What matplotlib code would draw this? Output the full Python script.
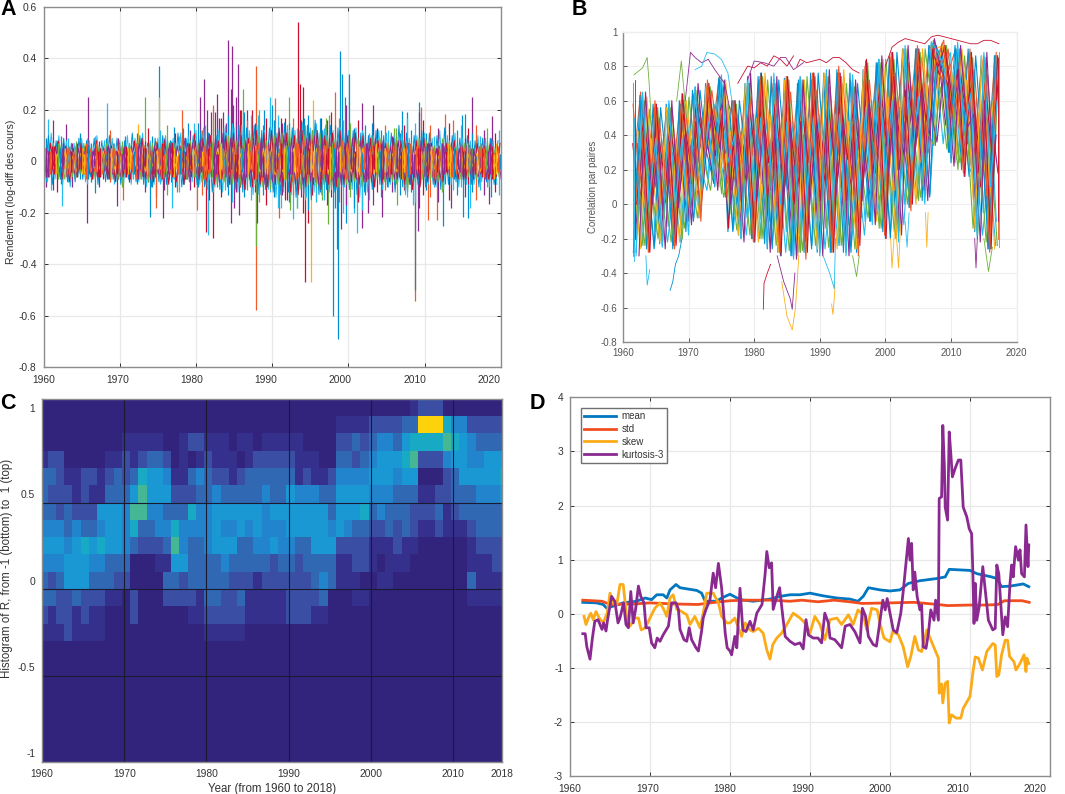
import numpy as np
import matplotlib
matplotlib.use("Agg")
import matplotlib.pyplot as plt
from matplotlib.colors import ListedColormap
from matplotlib.transforms import ScaledTranslation

plt.rcParams['font.family'] = ['Liberation Sans', 'DejaVu Sans']

W, H = 1065, 794
SER = ['#0090d0', '#f15a29', '#fbb01a', '#8e2a8f', '#6fb03a', '#25bdf0', '#c8102e']
AX = '#8c8c8c'; GRID = '#e8e8e8'; TXT = '#333333'

# ---------- A: returns, hundredths ----------
a_cyan = [9,-8,11,-7,10,-9,8,-10,7,-6, 9,-8,8,-7,10,-6,8,-7,9,-8, 8,-9,10,-9,9,-8,11,-10,8,-9, 9,-8,10,-7,9,-10,11,-9,10,-8,
 12,-9,13,-11,10,-10,12,-12,11,-9, 13,-12,14,-11,12,-13,14,-10,12,-11, 13,-14,11,-12,14,-13,12,-11,15,-14, 13,-12,11,-13,14,-12,12,-11,13,-10,
 12,-11,13,-14,11,-12,10,-10,12,-11, 11,-9,10,-8,12,-13,9,-8,10,-9, 11,-9,9,-10,12,-11,10,-9,11,-10, 9,-9,8,-9,10,-8,9,-10,8,-9]
a_blue = [-7,10,-9,8,-6,9,-8,7,-8,9, -7,8,-6,9,-9,8,-8,10,-7,9, -9,8,-7,11,-8,10,-9,7,-10,9, -8,10,-9,8,-7,11,-10,9,-8,10,
 -9,12,-10,11,-12,10,-11,13,-10,12, -11,14,-12,13,-10,14,-13,12,-11,13, -12,11,-13,15,-12,13,-14,12,-13,14, -15,16,-13,12,-11,14,-12,13,-10,12,
 -11,12,-13,11,-12,10,-11,12,-9,10, -10,11,-12,14,-10,11,-9,10,-9,12, -10,11,-9,10,-11,13,-9,10,-8,9, -9,10,-9,8,-10,9,-8,9,-9,8]
a_green = [5,-6,7,-5,6,-7,5,-6,6,-5, 7,-6,5,-7,6,-5,7,-6,5,-7, 6,-6,7,-5,8,-7,6,-8,7,-6, 5,-7,8,-6,7,-5,6,-7,8,-6,
 7,-8,9,-7,8,-9,7,-8,10,-9, 8,-10,9,-8,11,-9,10,-10,8,-11, 10,-9,11,-8,12,-10,9,-11,10,-9, 12,-10,11,-9,10,-11,9,-10,8,-9,
 10,-8,9,-10,8,-9,10,-7,9,-8, 7,-8,9,-7,8,-12,7,-8,9,-7, 8,-7,6,-8,7,-6,8,-7,6,-7, 7,-6,5,-7,6,-5,7,-6,5,-6]
a_red = [-6,7,-5,8,-7,6,-8,5,-6,7, -5,6,-7,8,-6,5,-7,6,-8,7, -6,5,-7,8,-6,9,-7,6,-8,7, -6,8,-9,7,-8,6,-9,7,-6,8,
 -7,9,-8,10,-9,8,-7,10,-9,11, -8,10,-11,9,-10,12,-9,11,-10,12, -9,13,-10,11,-12,10,-13,12,-10,11, -9,12,-11,10,-9,11,-10,12,-9,10,
 -8,11,-9,10,-8,9,-10,8,-9,7, -8,9,-7,8,-9,7,-11,8,-10,9, -8,7,-9,6,-8,7,-6,8,-7,6, -7,6,-6,7,-5,6,-7,5,-6,7]
a_purple = [4,-5,6,-4,5,-6,4,-5,5,-4, 6,-5,4,-6,5,-4,6,-5,4,-6, 5,-5,6,-4,7,-6,5,-7,6,-5, 4,-6,7,-5,6,-4,9,-6,7,-5,
 8,-7,10,-6,9,-8,11,-6,9,-8, 7,-9,8,-7,9,-8,9,-9,7,-8, 9,-8,10,-7,9,-9,8,-9,9,-8, 10,-9,9,-8,9,-10,8,-9,7,-8,
 9,-7,8,-8,7,-8,9,-6,8,-7, 6,-7,8,-6,7,-9,6,-7,8,-6, 7,-6,5,-7,6,-5,7,-6,5,-6, 6,-5,4,-6,5,-7,6,-5,6,-7]
a_orange = [-4,3,-5,4,-3,5,-4,3,-4,4, -3,5,-4,3,-5,4,-3,5,-4,3, -5,4,-3,5,-4,6,-5,4,-3,5, -4,3,-5,4,-5,3,-4,6,-5,4,
 -3,6,-5,7,-6,4,-5,7,-6,5, -7,6,-5,8,-6,7,-8,6,-5,7, -6,8,-7,6,-8,7,-5,8,-6,7, -8,6,-7,8,-6,7,-5,8,-7,6,
 -5,7,-6,5,-7,6,-5,7,-6,5, -4,6,-5,4,-6,5,-4,6,-5,4, -3,5,-6,4,-5,3,-5,4,-3,5, -4,3,-4,5,-3,4,-5,3,-4,4]
a_yellow = [2,-3,3,-2,4,-3,2,-4,3,-2, 3,-4,2,-3,4,-2,3,-3,4,-2, 3,-2,4,-3,2,-4,3,-2,4,-3, 2,-4,3,-2,4,-3,2,-3,4,-2,
 3,-4,2,-3,5,-3,4,-2,5,-4, 3,-5,4,-3,6,-4,5,-3,4,-5, 3,-4,6,-3,5,-4,3,-6,4,-3, 5,-4,6,-5,3,-4,5,-3,6,-4,
 3,-4,5,-3,4,-5,3,-4,5,-2, 3,-4,2,-3,5,-2,4,-3,3,-2, 4,-3,2,-4,3,-2,4,-3,2,-3, 3,-2,3,-4,2,-3,4,-2,3,-3]

a_fr_up = [9,7,16,8,10,6,9,7,8,11,6,9,7,10,8,6,9,12,7,9,8,10,6,8, 11,9,8,13,10,8,12,9,14,8,11,10,13,9,12,11, 15,12,14,11,16,13,17,14,18,15,16,20,
 19,16,18,15,20,14,17,19,16,18,15,17, 15,17,13,16,14,18,12,15,17,13,16,19,14,17,16,22, 15,13,16,12,14,11,15,13,12,14, 12,10,13,11,14,17,12,15,19,16,
 11,14,10,13,9,12,15,10,12,14,9,13,11,14,10,12,13,9,11,12]
a_fr_dn = [-8,-6,-11,-7,-9,-5,-8,-10,-6,-7,-5,-9,-8,-6,-10,-7,-5,-8,-9,-7,-10,-6,-8,-7, -9,-7,-12,-8,-10,-14,-9,-11,-13,-8,-10,-12,-9,-7,-11,-10, -10,-13,-9,-15,-12,-10,-14,-11,-13,-16,-12,-10,
 -14,-11,-15,-12,-16,-13,-17,-12,-14,-18,-13,-15, -16,-13,-18,-14,-15,-19,-13,-16,-12,-15,-17,-14,-18,-16,-20,-17, -14,-18,-16,-19,-13,-15,-17,-12,-14,-11, -10,-12,-9,-13,-11,-14,-12,-16,-18,-13,
 -11,-14,-10,-16,-12,-9,-15,-11,-13,-10,-14,-9,-12,-15,-11,-13,-10,-14,-12,-13]
a_mid = [4,6,3,5,7,2,5,4,6,3,5,7,4,2,6,5,3,7,4,5, 6,3,5,4,7,3,6,5,2,6,4,7,5,3,6,4,5,7,3,6, 5,4,7,3,6,5,7,4,6,3,7,5,4,6,3,7,5,6,4,7,
 5,3,6,7,4,5,7,3,6,5,4,7,6,3,5,7,4,6,5,3, 7,4,6,5,3,7,5,4,6,7,3,5,4,6,7,3,5,6,4,7, 5,3,6,4,7,5,3,6,5,4,7,3,6,5,4,6,3,5,7,4]
a_mid_ser = [1,3,6,2,0,3,1,6,4,3,2,1]
a_fr_ser = [0,5,3,6,0,1,5,3,4,0,6,5]

a_up_year = [0.6,3.0,5.8,8.3,13.35,15.1,15.1,18.2,21.0,20.5,22.0,22.7,22.3,24.2,24.75,24.6,25.5,25.2,26.2,27.85,29.7,30.4,32.2,33.4,33.65,34.0,35.35,38.3,38.9,39.2,39.5,40.05,41.85,43.3,47.05,47.7,49.3,49.6,52.7,53.7,54.95,55.3,56.2,58.85,26.65,27.3,28.2,28.9,30,31.1,37.1,37.5,36.4,34.2,12.45,17.1,18.9,19.8,45.95,43.05,21.5,22.5,23,23.5,23.9,24.9,25.9]
a_up_val = [16.5,14.5,25,22.5,25,37,25,20,32,25,19,26,22,47,45,28,38,25,28,37,25,24.5,25,54,30,29,24,27,43,34,25,34,22.5,22,19.5,19,23,21,18.5,16,18,18.5,25,17.5,20,20,18,20,22,17,17,18,17,17,14.5,13.5,15,15,13,15,20,19,17,19,15,22,20]
a_up_ser = [5,3,3,5,4,0,2,1,3,3,3,3,1,3,3,3,3,3,4,1,5,1,4,6,6,6,2,1,0,0,0,0,3,3,0,0,0,1,1,1,0,0,3,3,3,6,5,0,0,6,4,4,3,0,2,0,0,5,4,0,3,3,3,3,3,3,3]
a_dn_year = [0.25,0.95,1.8,2.4,5.7,6.7,9.65,10.4,14,14.7,15.7,16.8,17.5,20.2,21.3,21.55,22.2,24.55,25.05,25.6,27.85,27.85,28.05,30.9,31.1,31.9,32.4,32.75,33.2,34,34.3,34.7,35.1,35.8,36.6,37.3,37.95,38.55,38.7,39.05,39.65,40.75,41.15,41.75,42.6,44.4,46.45,48.8,48.8,49.15,48.45,50.4,51.65,52.4,53.45,55,55.65,56,58.45]
a_dn_val = [-10,-11,-12,-17.5,-24,-12.5,-17.5,-15,-21.5,-18,-22,-18,-12,-19,-27.5,-28.5,-30,-24,-18,-21,-58,-33,-24,-22,-18,-15,-19,-22.5,-18,-20,-47,-24,-47,-16,-15,-24.5,-60,-34,-69,-26.5,-24,-20,-28,-26,-20,-21.5,-17,-54.5,-50,-27,-17,-23,-23,-25,-18,-21.5,-22,-18,-16.5]
a_dn_ser = [3,5,6,5,3,0,3,1,0,1,3,5,1,1,6,5,6,3,3,3,1,4,3,1,5,6,4,5,4,6,6,6,2,2,4,4,0,0,0,3,0,5,5,3,3,3,4,1,0,3,5,1,1,0,3,0,0,5,3]

# ---------- B: pairwise correlation, hundredths, yearly from mid 1961 ----------
b_1 = [68,-28,62,-27,58,-24,58,-22,64,-10,68,6,70,10,70,-16,60,-20,74,-22,76,-26,72,-30,74,-30,74,-26,76,-28,76,-26,76,-28,70,-22,83,-10,84,-20,88,-16,90,0,90,4,94,80,92,24,90,16,88,-20,86,-26,86]
b_2 = [-28,63,-26,58,-23,58,-26,60,-16,66,-8,70,14,73,4,60,-18,70,-20,74,-23,74,-28,73,-30,70,-28,76,-28,76,-28,78,-28,76,-28,78,-10,82,-16,86,-20,90,-2,90,2,92,34,93,30,92,20,90,-16,86,-26,86,-20]
b_3 = [45,-15,45,-16,38,-13,38,-12,46,-2,50,15,58,18,55,-6,42,-8,52,-9,50,-12,47,-16,48,-17,50,-12,52,-14,52,-13,50,-14,48,-10,60,4,62,-6,62,0,68,12,70,16,90,78,88,32,75,26,62,-5,60,-10,60]
b_4 = [-10,52,-10,47,-8,47,-9,48,-2,53,4,58,24,62,16,50,-3,57,-4,62,-5,62,-7,60,-10,57,-8,62,-8,62,-8,64,-8,60,-9,62,8,70,6,72,-2,76,14,78,16,78,66,86,50,82,40,78,4,72,-5,72,-5]
b_5 = [58,12,55,9,50,10,52,10,54,15,58,30,66,35,62,15,52,16,62,20,68,18,65,15,65,13,68,18,66,17,68,20,70,18,62,20,72,28,75,28,76,35,82,42,85,45,92,72,90,50,85,45,78,26,75,24,75]
b_6 = [-20,28,-18,24,-15,24,-17,25,-10,32,-4,36,12,48,12,34,-10,34,-12,40,-14,36,-18,30,-22,30,-22,34,-20,36,-20,36,-18,34,-20,30,-2,44,-8,44,-10,48,4,52,8,55,36,75,32,70,28,60,-8,46,-16,40,-12]
b_7 = [25,65,22,56,20,56,18,58,25,64,32,68,44,74,40,60,25,68,28,70,30,70,25,68,24,70,24,72,28,74,28,76,28,72,26,76,40,80,38,85,42,90,50,90,54,92,82,92,78,90,62,88,40,84,34,86,38]
b_8 = [10,-25,12,-25,12,-22,10,-22,20,-8,22,8,40,12,32,-15,16,-18,25,-20,22,-22,18,-28,18,-28,18,-24,20,-26,20,-24,20,-24,18,-18,30,-6,26,-16,32,-12,44,3,46,6,75,35,75,26,50,18,28,-18,20,-24,25]
b_9 = [35,0,32,0,30,1,30,2,34,12,40,25,50,30,46,8,36,10,44,10,42,8,38,6,38,5,40,8,42,8,42,10,44,8,38,8,54,18,54,16,58,20,62,30,66,30,84,78,76,40,68,35,52,10,50,6,50]
b_10 = [-4,42,-2,38,0,38,-1,40,4,44,8,50,26,55,20,42,4,48,6,50,3,52,2,50,0,48,2,50,4,50,2,52,2,48,2,50,14,60,12,62,8,66,20,68,24,70,40,88,44,78,38,72,12,60,5,60,8]
b_11 = [-25,15,-24,12,-20,12,-22,15,-14,20,-8,25,8,38,4,22,-15,22,-18,28,-20,24,-24,18,-27,18,-27,22,-24,24,-25,24,-24,22,-26,20,-8,32,-14,32,-16,36,0,40,4,42,34,68,32,58,24,50,-14,32,-22,28,-18]
b_12 = [55,20,50,17,48,18,46,17,52,26,58,38,62,42,60,22,50,24,58,28,60,24,58,22,56,22,60,24,60,26,60,26,62,26,58,26,70,36,70,34,74,36,78,46,80,48,90,75,88,60,82,54,70,32,70,30,72]
b_13 = [5,35,6,30,8,30,5,32,12,36,18,44,30,48,26,35,12,38,14,42,12,40,10,38,8,38,10,42,12,42,12,44,10,40,12,44,22,50,22,52,28,56,30,60,34,62,50,84,46,70,44,62,20,48,14,50,18]
b_14 = [66,-10,60,-10,56,-8,56,-10,60,-2,66,14,68,22,68,-6,58,-4,70,-6,74,-10,70,-14,72,-14,72,-10,74,-12,74,-8,74,-12,68,-8,82,8,82,0,84,14,90,18,88,22,95,55,92,36,90,30,85,0,85,-4,85]
b_15 = [62,18,-24,55,16,-22,56,16,-20,62,30,8,68,40,6,58,18,-18,70,25,-20,72,24,-28,72,22,-28,74,25,-26,74,26,-24,70,22,-22,80,35,-14,84,38,-16,88,46,2,90,60,84,90,60,20,86,38,-18,84,30,-24]
b_16 = [-24,60,22,-26,56,18,-24,58,24,-10,66,30,14,72,40,-16,60,28,-20,72,28,-26,72,22,-30,72,22,-26,76,26,-28,76,26,-28,70,28,-10,82,36,-20,88,38,-2,90,46,4,92,80,30,90,58,16,86,32,-26,86,30]
b_17 = [20,-26,62,15,-22,56,16,-22,60,26,-8,68,42,10,72,20,-18,70,26,-22,76,24,-28,72,22,-30,72,24,-26,76,24,-26,78,22,-26,78,36,-10,84,34,-20,90,44,0,90,50,90,92,62,24,90,50,-15,86,30,-26,86]
b_18 = [66,0,40,-28,58,-4,36,-24,64,12,48,6,70,28,52,-14,60,0,50,-22,76,4,46,-30,74,0,48,-28,76,2,50,-28,76,2,46,-24,84,18,56,-20,88,20,66,0,90,30,88,80,92,50,78,16,88,18,60,-26,86]
b_19 = [0,40,-28,60,0,36,-26,60,8,50,-10,72,30,54,4,60,2,50,-22,74,6,46,-28,74,2,46,-32,76,4,50,-28,80,2,48,-30,80,18,56,-18,88,20,62,-4,92,28,70,85,95,46,72,18,90,16,62,-28,88,30]
b_20 = [40,-30,65,0,36,-26,60,-2,40,-12,70,24,52,8,72,0,40,-22,76,4,46,-28,74,0,46,-32,72,0,46,-30,78,4,46,-30,72,2,58,-12,86,18,62,-18,92,28,66,2,96,78,70,22,92,44,52,-22,88,12,60]
b_21 = [-30,65,2,38,-25,60,0,38,-18,68,8,48,12,75,24,40,-20,72,2,50,-25,76,0,48,-32,72,2,50,-30,78,2,52,-30,75,2,56,-12,84,18,60,-22,92,24,62,0,94,88,78,28,94,42,64,-18,88,10,60,-22]
b_lines = [b_1,b_8,b_14,b_4,b_9,b_13,b_7,b_15,b_2,b_3,b_10,b_6,b_12,b_5,b_16,b_11,b_17,b_18,b_19,b_20,b_21]
b_line_ser = [0,5,4,2,6,3,1,4,0,5,2,3,6,1,0,4,2,6,1,3,5]
b_off = [-.5,.3,-.2,.45,0,-.35,.2,-.45,.1,.4,-.1,.35,-.3,.05,.25,-.15,.15,-.4,.38,-.05,.5]

b_out_years = [
 [1961.7,1962,1963,1963.7,1964,1964.3],[1968.2,1968.9,1969.2,1969.7],
 [1969.5,1970.3,1971,1972,1973,1974,1975.5,1976.3],[1971,1972,1972.8,1974,1975,1976,1976.6],
 [1984.2,1985,1985.8,1986.3,1986.8],[1983.5,1984.5,1985.5,1985.8,1986.2],[1981.4,1981.5,1982,1982.5],
 [1967.2,1967.6,1968,1968.5,1969],[1963.5,1963.7,1964.1],[1991.8,1992,1992.3,1992.2],[1990.5,1991.5,1992.2,1992.4],
 [1995,1995.6,1996],[2015,2015.7,2016.3],[2013.6,2013.8,2014],[2000.8,2001,2001.4],[2001.7,2002,2002.3],[2003,2003.3,2003.6],[2006.1,2006.3,2006.5],
 [2000,2001,2002,2003,2004,2005,2006,2007,2008,2009,2010,2011,2012,2013,2014,2015,2016,2017.3],
 [1977.5,1979,1980,1981,1982,1983,1984,1985,1986],[1986.5,1987,1988,1989,1990,1991,1992,1993,1994,1995,1996],[1979,1980,1981.5,1983,1984,1984.8,1986,1987.5],
 [1961.6,1961.6],[1961.7,1961.7],[1961.8,1961.8],[2017.3,2017.3],[2017.2,2017.2],[2017.1,2017.1]]
b_out_vals = [
 [75,76,79,85,70,50],[60,83,70,50],
 [60,88,85,82,84,78,70,55],[78,80,88,87,84,76,60],
 [-45,-65,-73,-60,-30],[-30,-45,-55,-61,-40],[-61,-46,-40,-35],
 [-50,-45,-35,-30,-20],[-30,-47,-38],[-58,-64,-50,-45],[-30,-40,-49,-20],
 [-30,-42,-30],[-20,-39,-25],[-20,-37,-20],[-20,-37,-15],[-20,-37,-12],[-10,-25,-5],[-5,-25,-5],
 [80,91,94,96,95,94,93,97,98,97,96,95,94,93,93,95,95,93],
 [70,80,79,82,80,86,84,80,86],[80,84,82,83,84,82,85,85,82,78,76],[72,83,82,80,85,85,78,82],
 [-30,70],[-33,50],[-20,72],[-25,88],[-20,80],[-10,85]]
b_out_ser = [4,4,3,5,2,3,6,0,5,2,5,4,4,3,2,2,5,2,6,6,6,3,1,5,6,4,1,6]

# ---------- C: histogram levels per row (top bin = 1.0) and year column ----------
c_r10 = [0,0,0,0,0,0,0,0,0,0,0,0,0,0,0,0,0,0,0,0,0,0,0,0,0,0,0,0,0,0,0,0,0,0,0,0,0,0,0,0,0,0,0,0,0,1,2,2,2,0,0,0,0,0,0,0,0]
c_r09 = [0,0,0,0,0,0,0,0,0,0,0,0,0,0,0,0,0,0,0,0,0,0,0,0,0,0,0,0,0,0,0,0,0,0,0,0,1,1,1,1,2,2,2,2,3,3,9,9,9,6,4,4,2,2,2,2,2]
c_r08 = [0,0,0,0,0,0,0,0,0,0,1,1,1,1,1,0,0,1,2,2,1,1,1,0,1,1,0,1,1,1,1,1,0,0,0,0,2,2,3,2,3,4,4,3,5,6,6,6,6,7,6,5,4,3,3,3,3]
c_r07 = [1,2,2,0,0,0,0,0,1,1,2,1,2,3,3,2,0,1,0,1,2,1,1,1,0,1,2,2,2,2,2,1,1,1,0,0,3,3,2,3,4,5,5,5,6,7,2,2,2,4,5,5,4,4,5,5,5]
c_r06 = [3,3,2,1,1,2,2,1,2,3,2,3,6,5,5,4,1,1,3,4,3,2,2,1,2,3,3,3,3,3,3,1,2,1,1,2,4,4,4,4,5,5,5,4,5,5,0,0,0,2,3,5,5,5,5,5,6]
c_r05 = [3,2,2,2,1,2,1,1,3,3,3,5,7,5,5,5,2,2,2,3,3,4,3,3,3,3,3,4,3,3,5,4,4,4,3,3,5,5,5,5,4,4,4,3,3,3,1,1,2,2,3,3,3,4,4,4,5]
c_r04 = [3,3,2,3,2,2,2,5,5,5,4,7,7,4,4,3,3,3,6,4,4,5,5,5,5,5,5,4,5,5,5,5,5,5,5,3,5,5,5,6,3,4,3,3,3,2,2,2,3,1,2,3,3,3,3,3,3]
c_r03 = [4,4,4,3,4,3,3,4,5,5,4,6,3,3,4,4,6,4,4,4,4,5,4,4,5,4,5,4,4,4,5,5,5,5,5,4,5,4,3,3,2,2,3,2,3,2,1,1,2,1,1,1,2,3,3,3,3]
c_r02 = [5,5,5,4,5,6,5,6,5,5,4,3,2,2,2,3,7,4,3,3,4,5,5,5,3,3,4,4,5,4,4,3,3,5,5,5,2,2,2,2,1,1,1,2,1,1,0,0,0,0,0,0,1,2,2,2,2]
c_r01 = [4,4,4,5,5,5,4,4,3,3,3,0,0,0,1,1,5,5,3,3,3,3,4,3,3,3,3,3,2,3,3,2,3,3,3,3,1,1,2,2,1,0,1,1,1,0,0,0,0,0,0,0,1,1,1,2,2]
c_r00 = [3,2,3,5,5,5,3,3,3,2,2,0,0,0,0,3,3,2,3,3,3,3,3,2,2,2,1,2,2,2,2,2,2,3,4,3,1,1,1,0,0,1,1,0,0,0,0,0,0,0,0,0,3,1,1,1,1]
c_rm1 = [3,3,2,2,3,2,2,2,1,1,0,2,0,0,0,2,2,2,2,1,3,3,2,2,3,1,1,1,1,1,2,2,2,2,3,0,0,0,1,1,0,0,0,0,0,0,0,0,0,0,0,0,1,1,1,1,1]
c_rm2 = [2,1,2,2,1,2,1,1,0,0,0,2,0,0,0,0,0,0,1,1,2,2,2,2,2,1,1,1,1,1,2,2,2,1,1,0,0,0,0,0,0,0,0,0,0,0,0,0,0,0,0,0,0,0,0,0,0]
c_rm3 = [1,1,1,2,1,1,1,1,0,0,0,0,0,0,0,0,0,0,0,0,1,1,1,1,1,0,0,0,0,0,0,0,0,0,0,0,0,0,0,0,0,0,0,0,0,0,0,0,0,0,0,0,0,0,0,0,0]
c_low = [0,0,0,0,0,0,0,0,0,0,0,0,0,0,0,0,0,0,0,0,0,0,0,0,0,0,0,0,0,0,0,0,0,0,0,0,0,0,0,0,0,0,0,0,0,0,0,0,0,0,0,0,0,0,0,0,0]
c_rows = [c_r10,c_r09,c_r08,c_r07,c_r06,c_r05,c_r04,c_r03,c_r02,c_r01,c_r00,c_rm1,c_rm2,c_rm3,
          c_low,c_low,c_low,c_low,c_low,c_low,c_low]
c_cols = ['#32247c','#35308b','#3a4fa3','#3068b4','#2184cc','#1a98d4','#18a9c4','#45b795','#b5bd50','#fdd20a']
c_tick_years = [1960,1970,1980,1990,2000,2010,2015.9]
c_tick_labels = ['1960','1970','1980','1990','2000','2010','2018']

# ---------- D: moments ----------
d_kurt_y = [1961.6,1961.9,1962.1,1962.5,1962.8,1963.1,1963.5,1964.0,1964.2,1964.5,1964.7,1965.2,1965.6,1966.0,1966.25,1966.7,1967,1967.3,1967.6,1967.9,1968.2,1968.55,1968.85,1969.25,1969.5,1969.9,1970.2,1970.6,1970.9,1971.25,1971.65,1972.3,1972.7,1973.25,1973.55,1973.75,1974.25,1974.6,1974.9,1975.2,1975.75,1976.05,1976.45,1976.65,1977,1977.5,1977.9,1978.2,1978.55,1978.95,1979.4,1979.65,1980,1980.2,1980.6,1980.85,1981.25,1981.6,1982,1982.5,1982.9,1983.35,1984,1984.4,1984.6,1984.9,1985.2,1985.4,1985.85,1986.2,1986.6,1986.9,1987.5,1988.1,1988.75,1989.15,1989.5,1989.8,1990.4,1991,1991.45,1991.85,1992.3,1992.5,1993.1,1993.95,1994.4,1995,1995.6,1996.25,1996.55,1996.95,1997.3,1997.9,1998.3,1998.65,1999.1,1999.4,1999.65,2000,2000.4,2000.85,2001.35,2001.65,2002,2002.3,2002.5,2002.7,2002.9,2003.1,2003.4,2003.75,2003.95,2004.15,2004.5,2004.8,2005.1,2005.5,2005.7,2006.05,2006.15,2006.45,2006.6,2006.8,2006.9,2007.2,2007.4,2007.6,2007.8,2008.2,2008.55,2008.85,2009.15,2009.6,2009.9,2010.2,2010.35,2010.5,2010.65,2010.85,2011.15,2011.6,2011.9,2012.3,2012.85,2013.15,2013.35,2013.6,2013.9,2014.1,2014.4,2014.7,2015,2015.2,2015.4,2015.7,2016.05,2016.25,2016.45,2016.8,2017,2017.25,2017.35]
d_kurt_v = [-.37,-.37,-.61,-.84,-.45,-.14,-.11,-.29,-.17,-.32,-.11,.32,.23,-.17,-.08,.2,-.2,-.26,.41,-.17,.08,.51,.32,.2,-.26,-.26,-.54,-.63,-.45,-.51,-.39,-.23,.2,.2,.08,-.29,-.48,-.51,-.26,-.48,-.63,-.69,-.32,-.08,.08,.26,.75,.48,.93,.48,-.36,-.63,-.69,-.76,-.42,-.63,.47,-.3,-.33,-.14,-.3,.01,.17,.75,1.15,.85,.94,.08,.32,.48,-.05,-.42,-.51,-.57,-.54,-.65,-.11,-.39,-.45,-.45,-.54,.01,-.17,-.45,-.48,-.63,-.23,-.2,-.33,-.54,.1,-.05,-.42,-.57,-.6,-.24,.25,.07,.28,.01,-.3,-.35,.01,.41,.93,1.39,.99,1.3,.44,.77,.31,.07,.16,-.61,-.64,-.36,.07,-.12,.25,-.12,2.13,2.16,3.48,2.71,1.97,1.73,3.36,2.96,2.53,2.71,2.84,2.84,1.97,1.79,1.57,1.48,.81,-.18,.56,-.12,.13,.87,.44,-.12,-.3,-.27,.9,.74,.07,-.39,-.06,-.24,.56,.9,.68,1.24,.99,1.18,.74,.68,1.64,.87,1.27]
d_skew_y = [1961.75,1962,1962.3,1962.6,1962.9,1963.25,1963.65,1964.15,1964.65,1965,1965.35,1965.85,1966.25,1966.65,1966.9,1967.15,1967.5,1968.1,1968.55,1968.9,1969.4,1970,1970.6,1971.25,1971.65,1972.1,1972.5,1972.9,1973.35,1973.95,1974.6,1975,1975.6,1976.25,1976.65,1977.1,1977.9,1978.55,1978.95,1979.6,1980,1980.6,1981.45,1981.9,1982.5,1982.9,1983.55,1984.15,1984.6,1985,1985.35,1985.85,1986.45,1987.1,1987.9,1988.75,1989.35,1990,1990.6,1991.25,1991.85,1992.5,1993.35,1993.95,1994.8,1995.4,1996,1996.65,1997.1,1997.7,1998.4,1998.75,1999.25,2000,2000.35,2001.05,2001.65,2002.2,2002.6,2003.1,2003.55,2003.95,2004.6,2005.2,2006.05,2006.15,2006.45,2006.6,2006.9,2007.2,2007.4,2007.7,2008.25,2008.85,2009.15,2010,2010.35,2010.65,2011.05,2011.55,2012.1,2012.85,2013.15,2013.35,2013.6,2013.95,2014.4,2014.7,2014.95,2015.5,2015.75,2016.25,2016.75,2017,2017.1,2017.35]
d_skew_v = [-.05,-.2,-.08,.01,-.11,.04,-.08,-.17,.01,.38,.2,.17,.54,.54,.2,-.17,-.23,-.08,-.08,-.3,-.26,-.08,.1,.2,.1,-.05,.29,.35,.08,.04,-.02,-.2,-.05,-.26,.01,.38,.38,.2,-.05,-.17,-.17,-.08,-.42,-.17,-.3,-.33,-.27,-.36,-.67,-.84,-.57,-.45,-.36,-.2,.01,-.08,-.17,-.36,-.05,-.2,-.48,-.11,-.08,-.2,-.02,-.2,.07,-.02,-.3,.1,.07,-.18,-.45,-.52,-.33,-.39,-.61,-.98,-.79,-.42,-.67,-.7,-.3,-.52,-.82,-1.47,-1.3,-1.65,-1.29,-1.25,-2.02,-1.87,-1.93,-1.93,-1.75,-1.53,-1.1,-.8,-.82,-1.04,-.7,-.55,-.58,-1.16,-1.13,-.76,-.49,-.49,-.79,-.89,-1.04,-.92,-.76,-1.07,-.82,-.92]
d_mean_y = [1961.6,1963.3,1964.15,1964.6,1965.4,1966.65,1968.3,1969.4,1970.2,1970.85,1971.65,1972.1,1972.5,1973.25,1973.75,1975.85,1976.45,1976.9,1978.3,1978.95,1980,1981.25,1982.9,1985,1986.25,1987.5,1988.75,1990,1991.65,1993.35,1995,1996,1996.65,1997.3,1998.75,2000,2001.25,2002.3,2003.75,2005.85,2006.9,2007.4,2010,2010.85,2012.7,2013.35,2013.95,2015,2015.85,2016.65,2017.35]
d_mean_v = [.21,.2,.17,.1,.14,.2,.23,.29,.26,.35,.35,.29,.44,.54,.48,.43,.38,.23,.23,.29,.36,.26,.23,.27,.32,.35,.35,.38,.33,.29,.27,.23,.32,.48,.44,.42,.44,.56,.61,.65,.68,.82,.8,.74,.68,.65,.5,.51,.53,.55,.5]
d_std_y = [1961.6,1964,1965,1968,1970,1973,1976,1977.5,1980,1982,1985,1987.5,1989,1991,1993,1995,1996.5,2000,2003,2006,2007.2,2010,2012,2013.5,2014.3,2016.5,2017.4]
d_std_v = [.25,.23,.17,.18,.2,.18,.17,.2,.24,.25,.25,.23,.25,.22,.25,.22,.19,.2,.21,.17,.15,.16,.16,.17,.24,.24,.21]
d_names = ['mean','std','skew','kurtosis-3']
d_cols = ['#0077c0','#f04e1f','#fbab18','#8a2a90']


def axes_px(l, t, r, b):
    return fig.add_axes([l / W, 1 - b / H, (r - l) / W, (b - t) / H])


def style(ax, fs):
    for s in ax.spines.values():
        s.set_color(AX)
        s.set_linewidth(1.0)
    ax.tick_params(colors=TXT, labelsize=fs, direction='in', length=3, width=0.7)
    ax.tick_params(axis='x', pad=6)
    ax.tick_params(axis='y', pad=5)
    ax.set_axisbelow(True)


def shift_xlabels(ax, per_tick_px):
    for i, lab in enumerate(ax.get_xticklabels()):
        off = ScaledTranslation(i * per_tick_px / 100, 0, fig.dpi_scale_trans)
        lab.set_transform(lab.get_transform() + off)


fig = plt.figure(figsize=(W / 100, H / 100), dpi=100)

# A
ax = axes_px(43.6, 7, 500.7, 367)
style(ax, 7.4)
ax.tick_params(top=True, right=True)
ax.grid(True, color=GRID, lw=0.9)
a_core = [(a_cyan, 5), (a_blue, 0), (a_green, 4), (a_red, 6), (a_purple, 3), (a_orange, 1), (a_yellow, 2)]
ax.vlines([1960 + y for y in a_up_year], 0, [v / 100 for v in a_up_val], colors=[SER[s] for s in a_up_ser], lw=0.9)
ax.vlines([1960 + y for y in a_dn_year], 0, [v / 100 for v in a_dn_val], colors=[SER[s] for s in a_dn_ser], lw=0.9)
fr_x = 1960.25 + 0.5 * np.arange(len(a_fr_up))
fr_c = [SER[a_fr_ser[k % len(a_fr_ser)]] for k in range(len(a_fr_up))]
ax.vlines(fr_x, np.array(a_fr_dn) / 100, np.array(a_fr_up) / 100, colors=fr_c, lw=0.9)
for i, (vals, s) in enumerate(a_core):
    x = 1960 + 0.14 * i + 0.5 * np.arange(len(vals))
    ax.plot(x, np.array(vals) / 100, color=SER[s], lw=0.7)
mid_c = [SER[a_mid_ser[k % len(a_mid_ser)]] for k in range(len(a_mid))]
mid_c2 = [SER[a_mid_ser[(k + 5) % len(a_mid_ser)]] for k in range(len(a_mid))]
mid_x = 1960.1 + 0.5 * np.arange(len(a_mid))
mid = np.array(a_mid) / 100
ax.vlines(mid_x, -mid, np.roll(mid, 7), colors=mid_c, lw=1.0)
ax.vlines(mid_x + 0.25, -np.roll(mid, 13), np.roll(mid, 29), colors=mid_c2, lw=1.0)
ax.set_xlim(1960, 2020); ax.set_ylim(-0.8, 0.6)
ax.set_xticks(range(1960, 2021, 10))
ax.set_yticks([-0.8, -0.6, -0.4, -0.2, 0, 0.2, 0.4, 0.6])
ax.set_yticklabels(['-0.8', '-0.6', '-0.4', '-0.2', '0', '0.2', '0.4', '0.6'])
shift_xlabels(ax, -2)
ax.set_ylabel('Rendement (log-diff des cours)', fontsize=7.6, color=TXT, labelpad=2, y=0.486)

# B
ax = axes_px(622.9, 31.7, 1016.7, 342)
style(ax, 7.0)
ax.tick_params(colors='#555555', pad=4)
ax.grid(True, color='#eeeeee', lw=0.8)
ax.spines['top'].set_color('#eeeeee'); ax.spines['right'].set_color('#eeeeee')
for vals, s, off in zip(b_lines, b_line_ser, b_off):
    x = 1961.5 + off + np.arange(len(vals))
    keep = (x >= 1961.5) & (x <= 2017.3)
    ax.plot(x[keep], (np.array(vals) / 100)[keep], color=SER[s], lw=0.8)
for xs, vs, s in zip(b_out_years, b_out_vals, b_out_ser):
    ax.plot(xs, np.array(vs) / 100, color=SER[s], lw=0.6)
ax.set_xlim(1960, 2020); ax.set_ylim(-0.8, 1)
ax.set_xticks(range(1960, 2021, 10))
ax.set_yticks([-0.8, -0.6, -0.4, -0.2, 0, 0.2, 0.4, 0.6, 0.8, 1])
ax.set_yticklabels(['-0.8', '-0.6', '-0.4', '-0.2', '0', '0.2', '0.4', '0.6', '0.8', '1'])
ax.set_ylabel('Correlation par paires', fontsize=6.9, color='#555555', labelpad=2)

# C
ax = axes_px(42, 399.3, 501.7, 761.7)
style(ax, 7.4)
ax.imshow(np.array(c_rows), cmap=ListedColormap(c_cols), vmin=-0.5, vmax=9.5, aspect='auto',
          interpolation='nearest', extent=(1959.7, 2016.7, -1.05, 1.05))
for y in [0.45, -0.05, -0.55]:
    ax.axhline(y, color='#1a1a30', lw=0.8)
for x in c_tick_years[1:6]:
    ax.axvline(x, color='#1a1a30', lw=0.8)
ax.set_xlim(1960, 2015.9); ax.set_ylim(-1.048, 1.048)
ax.set_xticks(c_tick_years); ax.set_xticklabels(c_tick_labels)
ax.set_yticks([-1, -0.5, 0, 0.5, 1]); ax.set_yticklabels(['-1', '-0.5', '0', '0.5', '1'])
ax.tick_params(length=0, pad=5)
ax.set_xlabel('Year (from 1960 to 2018)', fontsize=8.3, color=TXT, labelpad=3)
ax.set_ylabel('Histogram of R, from -1 (bottom) to  1 (top)', fontsize=8.3, color=TXT, labelpad=3, y=0.533)

# D
ax = axes_px(570, 397.3, 1050, 776)
style(ax, 7.4)
ax.tick_params(top=True, right=True)
ax.grid(True, color=GRID, lw=0.9)
h1, = ax.plot(d_mean_y, d_mean_v, color=d_cols[0], lw=2.0)
h2, = ax.plot(d_std_y, d_std_v, color=d_cols[1], lw=2.0)
h3, = ax.plot(d_skew_y, d_skew_v, color=d_cols[2], lw=2.0)
h4, = ax.plot(d_kurt_y, d_kurt_v, color=d_cols[3], lw=2.0)
ax.set_xlim(1960, 2020); ax.set_ylim(-3, 4)
ax.set_xticks(range(1960, 2021, 10))
ax.set_yticks(range(-3, 5))
ax.set_yticklabels(['-3', '-2', '-1', '0', '1', '2', '3', '4'])
shift_xlabels(ax, -2.5)
leg = ax.legend([h1, h2, h3, h4], d_names, loc='upper left', bbox_to_anchor=(11 / 480, 1 - 10.7 / 378.7),
                fontsize=7.0, frameon=True, fancybox=False, framealpha=1, edgecolor='#707070',
                borderpad=0.35, labelspacing=0.28, handlelength=3.3, handletextpad=0.5, borderaxespad=0)
for t in leg.get_texts():
    t.set_color(TXT)

# panel letters
for s, x, y in [('A', 0, 15), ('B', 572, 15), ('C', 0, 409), ('D', 530, 409)]:
    fig.text(x / W, 1 - y / H, s, fontsize=15.5, fontweight='bold', color='black', va='baseline')

fig.savefig('out.png', dpi=100)
